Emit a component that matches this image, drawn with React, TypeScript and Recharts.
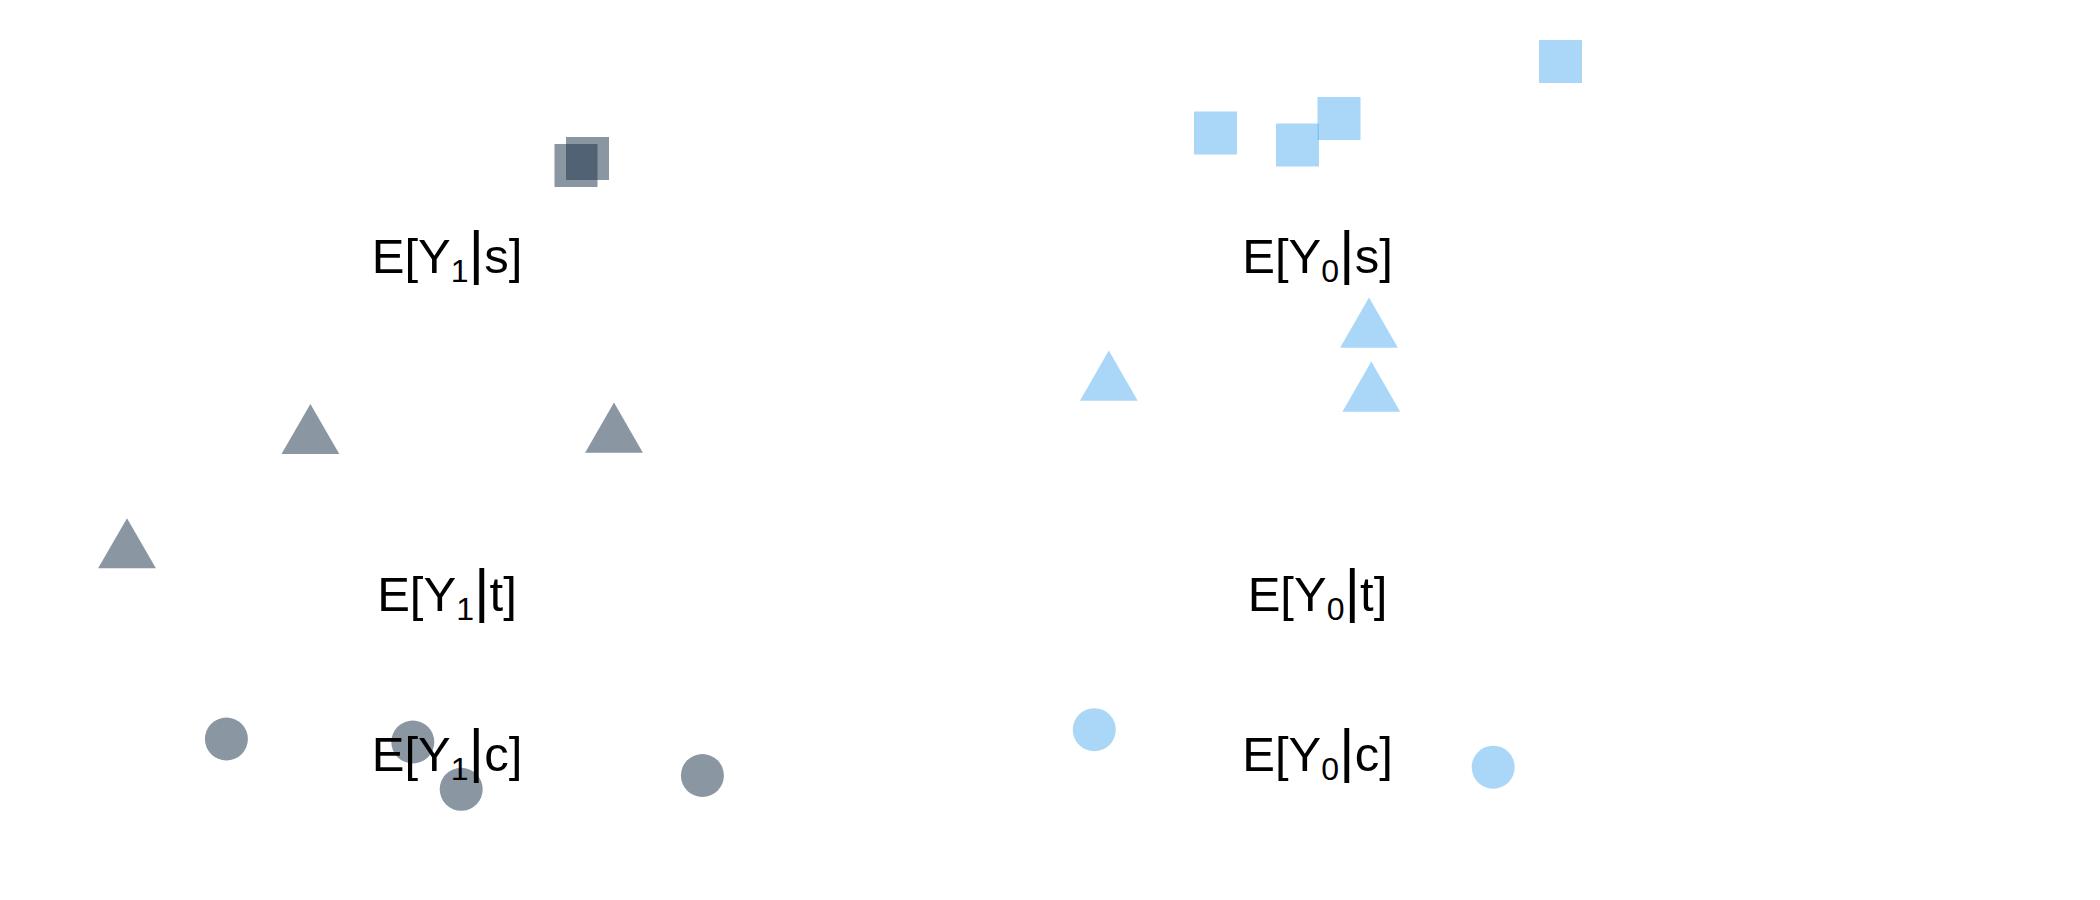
import React from "react";
import { ScatterChart, Scatter, XAxis, YAxis } from "recharts";

// Data (x in [0,21], y in [0,9], y pointing up)
const darkSquares = [
  { x: 5.76, y: 7.345 },
  { x: 5.875, y: 7.415 },
];
const lightSquares = [
  { x: 12.155, y: 7.67 },
  { x: 12.975, y: 7.55 },
  { x: 13.39, y: 7.815 },
  { x: 15.605, y: 8.385 },
];
const darkTriangles = [
  { x: 3.104, y: 4.627 },
  { x: 6.14, y: 4.64 },
  { x: 1.27, y: 3.484 },
];
const lightTriangles = [
  { x: 11.088, y: 5.16 },
  { x: 13.69, y: 5.69 },
  { x: 13.713, y: 5.05 },
];
const darkCircles = [
  { x: 2.264, y: 1.61 },
  { x: 4.128, y: 1.58 },
  { x: 4.612, y: 1.107 },
  { x: 7.024, y: 1.245 },
];
const lightCircles = [
  { x: 10.943, y: 1.703 },
  { x: 14.932, y: 1.328 },
];
const labels = [
  { x: 4.47, y: 6.273, sub: "1", cond: "s" },
  { x: 13.175, y: 6.273, sub: "0", cond: "s" },
  { x: 4.47, y: 2.89, sub: "1", cond: "t" },
  { x: 13.175, y: 2.89, sub: "0", cond: "t" },
  { x: 4.47, y: 1.29, sub: "1", cond: "c" },
  { x: 13.175, y: 1.29, sub: "0", cond: "c" },
];

const DARK = "#152D45";
const LIGHT = "#55B0F1";
const ALPHA = 0.5;

const squareShape = (color: string) => (p: any) => (
  <rect x={p.cx - 21.5} y={p.cy - 21.5} width={43} height={43} fill={color} fillOpacity={ALPHA} />
);
const triangleShape = (color: string) => (p: any) => {
  const h = 16.7;
  const w = 28.9;
  const pts = `${p.cx},${p.cy - 2 * h} ${p.cx - w},${p.cy + h} ${p.cx + w},${p.cy + h}`;
  return <polygon points={pts} fill={color} fillOpacity={ALPHA} />;
};
const circleShape = (color: string) => (p: any) => (
  <circle cx={p.cx} cy={p.cy} r={21.5} fill={color} fillOpacity={ALPHA} />
);
const labelShape = (p: any) => {
  const d = p.payload || p;
  return (
    <text
      x={p.cx}
      y={p.cy}
      textAnchor="middle"
      fontFamily="'Liberation Sans', Arial, sans-serif"
      fontSize={49}
      fill="#000"
    >
      E[Y<tspan fontSize={32} dy={9}>{d.sub}</tspan><tspan fontSize={60} dy={-9}>|</tspan><tspan>{d.cond}]</tspan>
    </text>
  );
};

export default function App() {
  return (
    <div style={{ position: "absolute", left: 0, top: 0, width: 2100, height: 900, background: "#fff" }}>
      <ScatterChart width={2100} height={900} margin={{ top: 0, right: 0, bottom: 0, left: 0 }}>
        <XAxis type="number" dataKey="x" domain={[0, 21]} hide />
        <YAxis type="number" dataKey="y" domain={[0, 9]} hide />
        <Scatter data={darkSquares} shape={squareShape(DARK)} isAnimationActive={false} />
        <Scatter data={lightSquares} shape={squareShape(LIGHT)} isAnimationActive={false} />
        <Scatter data={darkTriangles} shape={triangleShape(DARK)} isAnimationActive={false} />
        <Scatter data={lightTriangles} shape={triangleShape(LIGHT)} isAnimationActive={false} />
        <Scatter data={darkCircles} shape={circleShape(DARK)} isAnimationActive={false} />
        <Scatter data={lightCircles} shape={circleShape(LIGHT)} isAnimationActive={false} />
        <Scatter data={labels} shape={labelShape} isAnimationActive={false} />
      </ScatterChart>
    </div>
  );
}
